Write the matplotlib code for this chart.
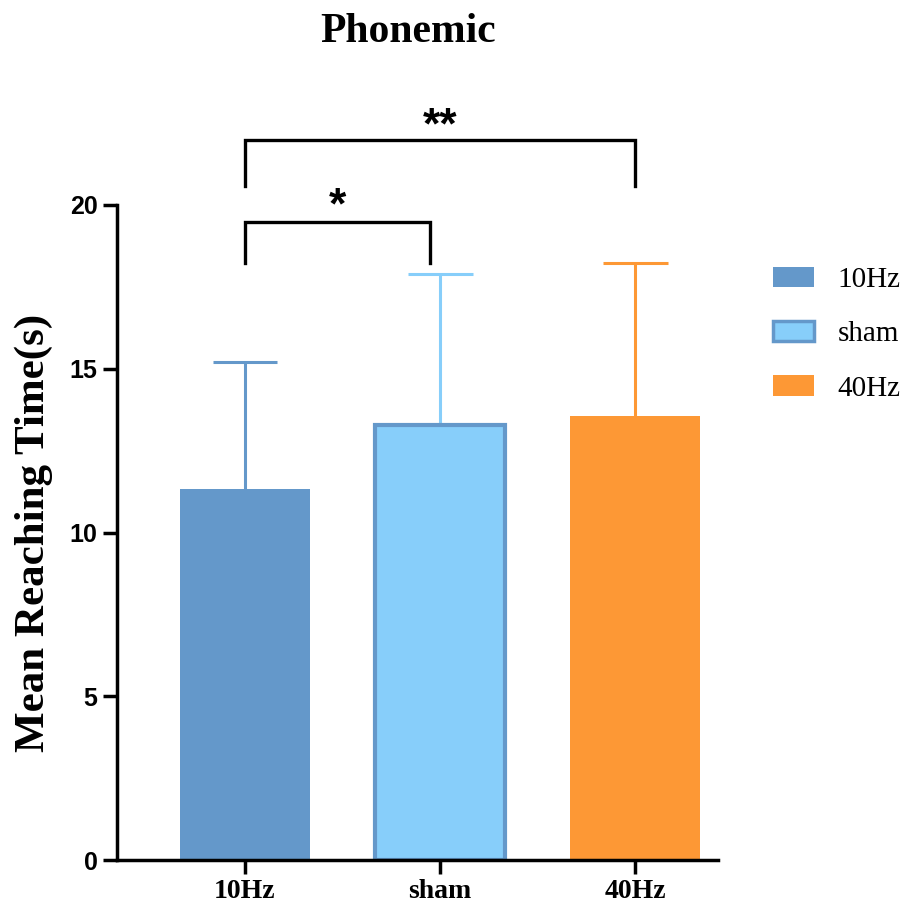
import matplotlib
matplotlib.use("Agg")
import matplotlib.pyplot as plt
from matplotlib.patches import Patch

categories = ["10Hz", "sham", "40Hz"]
means = [11.33, 13.28, 13.56]
errors = [3.87, 4.62, 4.67]
yticks = [0, 5, 10, 15, 20]
face_colors = ["#6498CA", "#87CEFA", "#FD9835"]
edge_colors = ["#6498CA", "#6498CA", "#FD9835"]
err_colors = ["#6498CA", "#87CEFA", "#FD9835"]
# significance brackets: (i, j, label)
sig_pairs = [(0, 1, "*"), (0, 2, "**")]

fig = plt.figure(figsize=(9.07, 9.13), dpi=100)
ax = fig.add_axes([0.129, 0.058, 0.663, 0.7175])

bar_w = 0.667
cap_w = 0.333
x = list(range(len(categories)))
for i in x:
    lw = 3 if i == 1 else 0
    ax.bar(i, means[i], width=bar_w, color=face_colors[i], edgecolor=edge_colors[i],
           linewidth=lw, zorder=2)
    top = means[i] + errors[i]
    ax.vlines(i, means[i], top, color=err_colors[i], lw=2.2, zorder=1)
    ax.hlines(top, i - cap_w / 2, i + cap_w / 2, color=err_colors[i], lw=2.2, zorder=1)

ax.set_xlim(-0.656, 2.426)
ax.set_ylim(0, 20)
ax.set_yticks(yticks)
ax.set_xticks(x)
ax.set_xticklabels(categories, fontfamily="Liberation Serif", fontweight="bold", fontsize=20)
for lab in ax.get_yticklabels():
    lab.set_fontfamily("Liberation Sans")
    lab.set_fontweight("bold")
    lab.set_fontsize(18)
ax.spines["top"].set_visible(False)
ax.spines["right"].set_visible(False)
ax.spines["left"].set_linewidth(2.5)
ax.spines["bottom"].set_linewidth(2.5)
ax.tick_params(axis="both", width=2.5, length=10, pad=4)

ax.set_ylabel("Mean Reaching Time(s)", fontfamily="Liberation Serif", fontweight="bold",
              fontsize=31, labelpad=12)
fig.text(0.45, 0.965, "Phonemic", ha="center", va="center", fontfamily="Liberation Serif",
         fontweight="bold", fontsize=30)

# brackets
levels = {"*": (18.23, 19.48, 19.60), "**": (20.58, 21.98, 22.04)}
for i, j, lab in sig_pairs:
    lo, hi, ty = levels[lab]
    xj = j - 0.05 if j == 1 else j
    ax.plot([i, i, xj, xj], [lo, hi, hi, lo], color="black", lw=2.4, clip_on=False,
            solid_joinstyle="miter")
    ax.text((i + xj) / 2, ty, lab, ha="center", va="baseline", fontsize=32,
            fontweight="bold", fontfamily="Liberation Sans", clip_on=False)

handles = [Patch(facecolor=face_colors[k], edgecolor=edge_colors[k],
                 linewidth=(2.5 if k == 1 else 0)) for k in range(3)]
leg = fig.legend(handles, categories, loc="upper left", bbox_to_anchor=(0.852, 0.708),
                 bbox_transform=fig.transFigure, frameon=False, borderpad=0, borderaxespad=0,
                 prop={"family": "Liberation Serif", "size": 21},
                 handlelength=1.43, handleheight=0.71, labelspacing=0.95, handletextpad=0.8)

fig.savefig("out.png", dpi=100)
